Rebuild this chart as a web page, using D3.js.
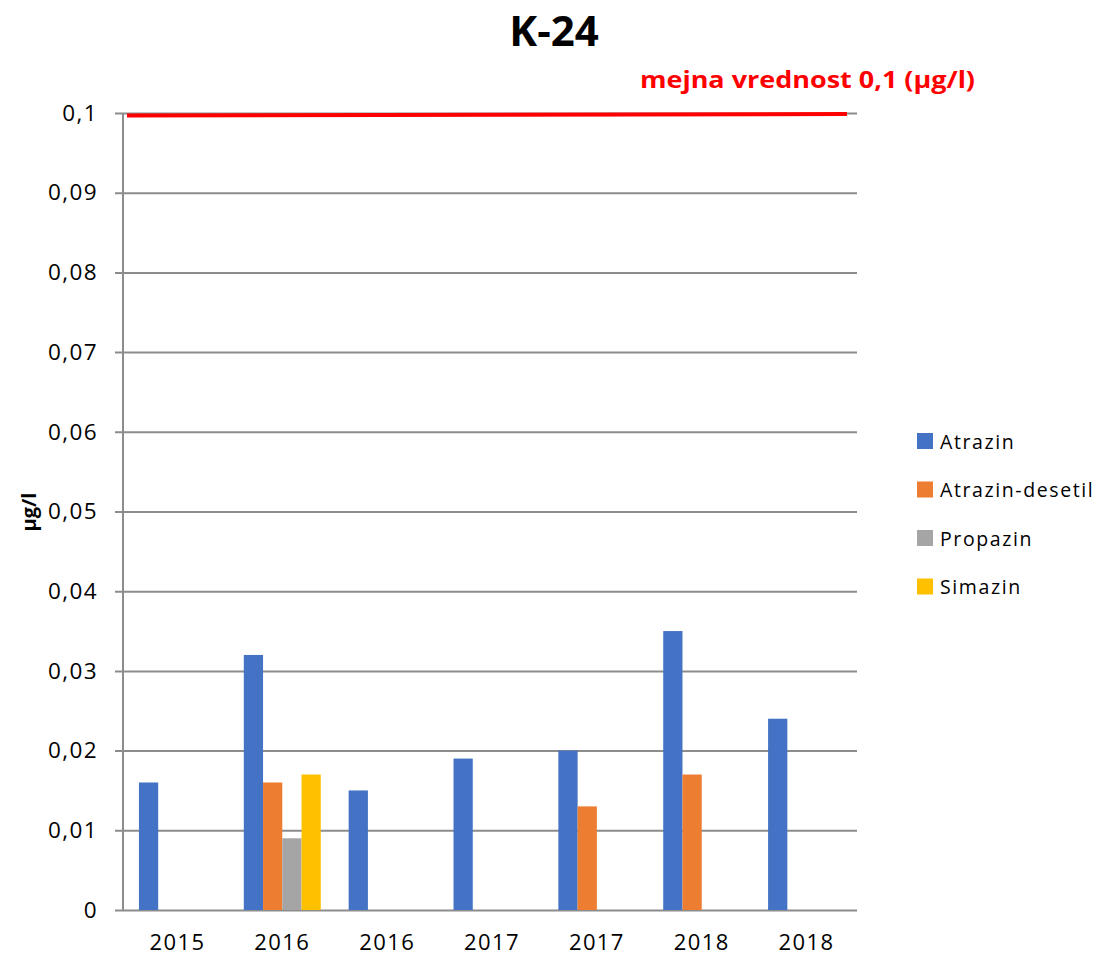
<!DOCTYPE html>
<html>
<head>
<meta charset="utf-8">
<script src="https://cdn.jsdelivr.net/npm/d3@7/dist/d3.min.js"></script>
<style>
  html, body { margin: 0; padding: 0; background: #fff; }
  svg { display: block; }
</style>
</head>
<body>
<svg id="chart" width="1097" height="957"></svg>
<script>
// Sampling dates (x categories)
const categories = ["2015", "2016", "2016", "2017", "2017", "2018", "2018"];
// Substances
const seriesNames = ["Atrazin", "Atrazin-desetil", "Propazin", "Simazin"];
const seriesColors = ["#4472C4", "#ED7D31", "#A5A5A5", "#FFC000"];
// Measured concentrations (µg/l); null = not detected
const atrazin        = [0.016, 0.032, 0.015, 0.019, 0.020, 0.035, 0.024];
const atrazinDesetil = [null,  0.016, null,  null,  0.013, 0.017, null];
const propazin       = [null,  0.009, null,  null,  null,  null,  null];
const simazin        = [null,  0.017, null,  null,  null,  null,  null];
// Y axis ticks and the limit value
const yTicks = [0, 0.01, 0.02, 0.03, 0.04, 0.05, 0.06, 0.07, 0.08, 0.09, 0.1];
const limitValue = 0.1;

const seriesValues = [atrazin, atrazinDesetil, propazin, simazin];

const svg = d3.select("#chart");
const plot = { left: 123, right: 857, top: 113, bottom: 910 };
const gridColor = "#8C8C8C";
const fontFam = "'Open Sans', 'DejaVu Sans', sans-serif";

const y = d3.scaleLinear().domain([0, 0.1]).range([plot.bottom, plot.top]);
const x = d3.scaleBand().domain(d3.range(categories.length))
  .range([plot.left + 2, plot.right + 2]).paddingInner(0.266).paddingOuter(0.133);
const xs = d3.scaleBand().domain(d3.range(seriesNames.length)).range([0, x.bandwidth()]);

// Horizontal gridlines with short ticks to the left of the axis
const fmt = v => (v === 0 ? "0" : String(+v.toFixed(2)).replace(".", ","));
const yAxis = d3.axisLeft(y).tickValues(yTicks).tickFormat(fmt)
  .tickSize(-(plot.right - plot.left)).tickPadding(18);
const gy = svg.append("g").attr("transform", `translate(${plot.left},0)`).call(yAxis);
gy.select(".domain").remove();
gy.selectAll(".tick line").attr("x1", -8).attr("stroke", gridColor).attr("stroke-width", 2);
gy.selectAll(".tick text").attr("font-family", fontFam).attr("font-size", 22.5)
  .attr("letter-spacing", 1.4).attr("fill", "#000").attr("x", -25);

// Vertical axis line
svg.append("line").attr("x1", plot.left).attr("x2", plot.left)
  .attr("y1", y(0.1)).attr("y2", y(0)).attr("stroke", gridColor).attr("stroke-width", 2);

// Bars
const barData = [];
seriesValues.forEach((vals, s) => vals.forEach((v, i) => {
  if (v != null) barData.push({ s, i, v });
}));
svg.append("g").selectAll("rect").data(barData).join("rect")
  .attr("x", d => x(d.i) + xs(d.s))
  .attr("width", xs.bandwidth())
  .attr("y", d => y(d.v))
  .attr("height", d => y(0) - y(d.v))
  .attr("fill", d => seriesColors[d.s]);

// Category axis labels
const xAxis = d3.axisBottom(x).tickFormat(i => categories[i]).tickSize(0).tickPadding(24);
const gx = svg.append("g").attr("transform", `translate(0,${plot.bottom})`).call(xAxis);
gx.select(".domain").remove();
gx.selectAll(".tick text").attr("font-family", fontFam).attr("font-size", 22)
  .attr("letter-spacing", 1.4).attr("fill", "#000");

// Limit line
svg.append("line")
  .attr("x1", plot.left + 4).attr("x2", 847)
  .attr("y1", y(limitValue) + 2.5).attr("y2", y(limitValue) + 1)
  .attr("stroke", "#FF0000").attr("stroke-width", 4);

svg.append("text").attr("x", 640).attr("y", 88)
  .attr("font-family", fontFam).attr("font-weight", "bold").attr("font-size", 24)
  .attr("fill", "#FF0000").attr("textLength", 335).attr("lengthAdjust", "spacingAndGlyphs")
  .text("mejna vrednost 0,1 (µg/l)");

// Title
svg.append("text").attr("x", 554).attr("y", 46).attr("text-anchor", "middle")
  .attr("font-family", fontFam).attr("font-weight", "bold").attr("font-size", 42)
  .attr("fill", "#000").text("K-24");

// Y axis title
svg.append("text").attr("transform", `translate(36,512) rotate(-90)`)
  .attr("text-anchor", "middle").attr("font-family", fontFam).attr("font-weight", "bold")
  .attr("font-size", 20).attr("fill", "#000").text("µg/l");

// Legend
const legend = svg.append("g").selectAll("g").data(seriesNames).join("g")
  .attr("transform", (d, i) => `translate(917,${433 + i * 48.5})`);
legend.append("rect").attr("width", 16).attr("height", 16).attr("fill", (d, i) => seriesColors[i]);
legend.append("text").attr("x", 23).attr("y", 15.5).attr("font-family", fontFam)
  .attr("font-size", 19.5).attr("letter-spacing", 1.6).attr("fill", "#000").text(d => d);
</script>
</body>
</html>
